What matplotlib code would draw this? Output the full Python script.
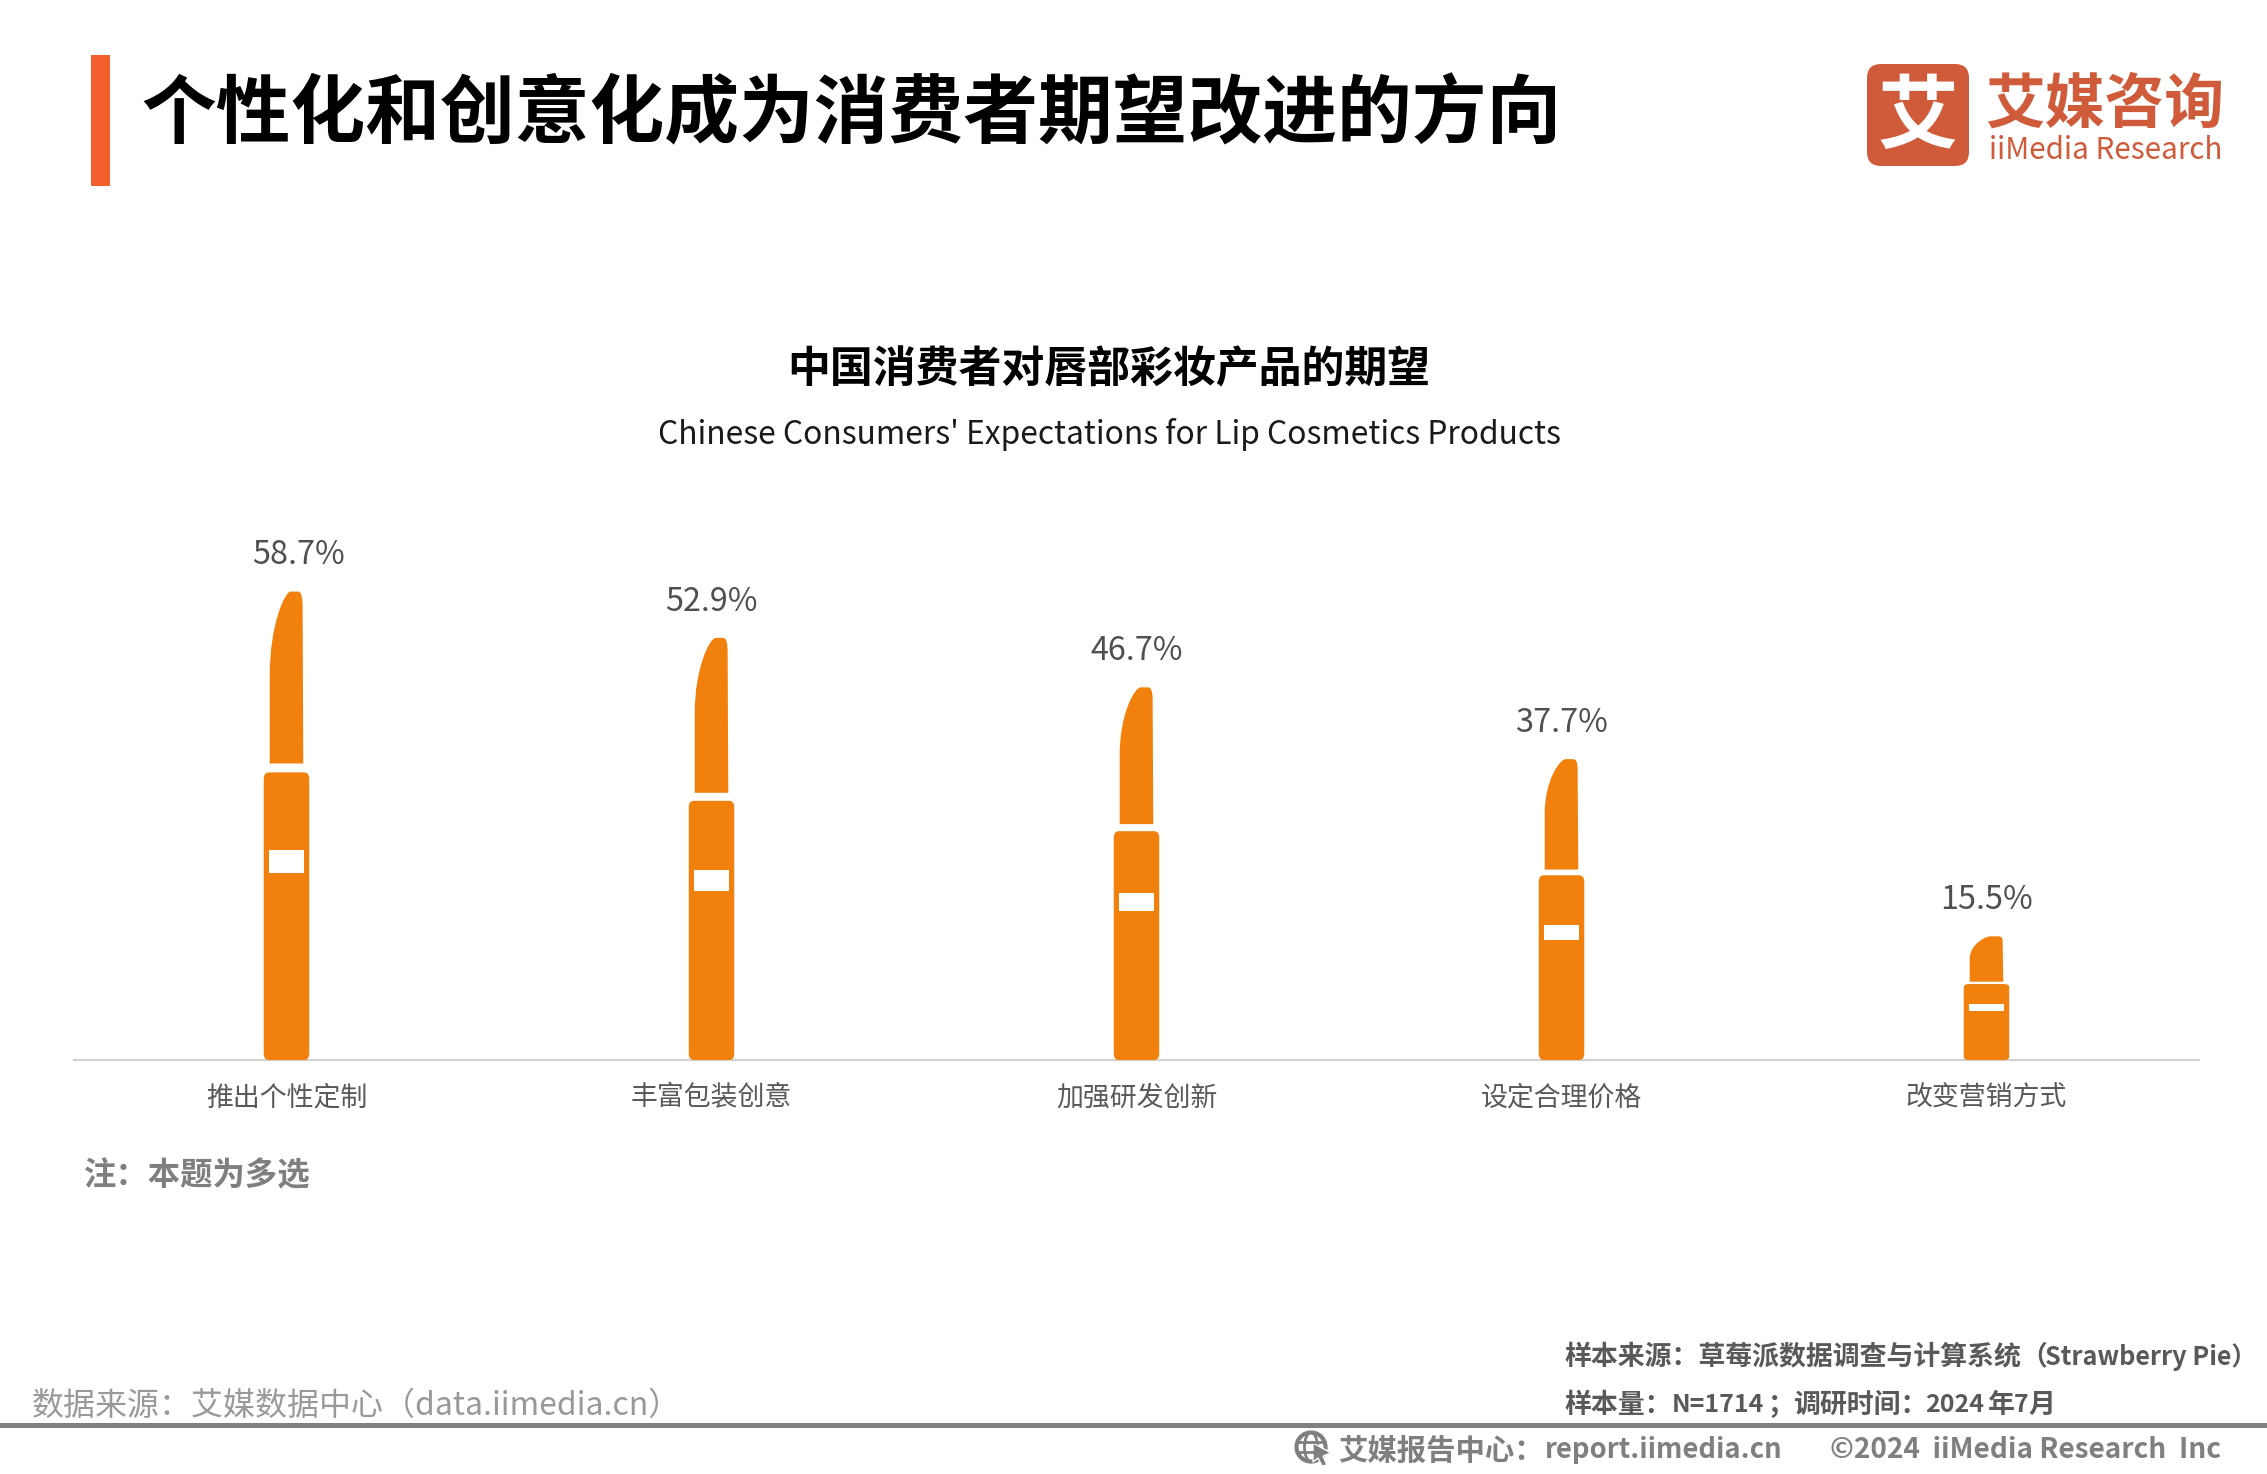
import matplotlib
matplotlib.use("Agg")
import matplotlib.pyplot as plt
from matplotlib.path import Path
from matplotlib.patches import PathPatch, Rectangle, FancyBboxPatch, Circle, Ellipse, Polygon

CJK = ['Noto Sans CJK SC', 'DejaVu Sans']
plt.rcParams['font.family'] = CJK

categories = ['推出个性定制', '丰富包装创意', '加强研发创新', '设定合理价格', '改变营销方式']
values = [58.7, 52.9, 46.7, 37.7, 15.5]
value_labels = ['58.7%', '52.9%', '46.7%', '37.7%', '15.5%']

ORANGE = '#F1800C'
W, H = 2267, 1474
fig = plt.figure(figsize=(W / 100, H / 100), dpi=100, facecolor='white')

# overlay in pixel coordinates
ov = fig.add_axes([0, 0, 1, 1])
ov.set_xlim(0, W); ov.set_ylim(H, 0); ov.axis('off')

# chart axes
base_y = 1060
left, right = 74, 2199
px_per = 7.98
ax_h = 70 * px_per
ax = fig.add_axes([left / W, (H - base_y) / H, (right - left) / W, ax_h / H])
ax.set_xlim(-0.5, 4.5); ax.set_ylim(0, 70)
ax.patch.set_alpha(0)
for s in ['top', 'left', 'right']:
    ax.spines[s].set_visible(False)
ax.spines['bottom'].set_color('#D2D2D2')
ax.spines['bottom'].set_linewidth(1.6)
ax.set_yticks([])
ax.set_xticks(range(len(categories)))
ax.set_xticklabels(categories, fontsize=19.4, color='#595959')
ax.tick_params(axis='x', length=0, pad=17.5)


def lipstick(i, v):
    bw, sw = 0.0535, 0.0395
    rx = 0.012
    ry = 0.014 * 58.7 / max(v, 30)
    top = 0.614 * v
    r = ry * v
    body = [(i - bw, r), (i - bw, top - r), (i - bw, top), (i - bw + rx, top),
            (i + bw - rx, top), (i + bw, top), (i + bw, top - r),
            (i + bw, r), (i + bw, 0), (i + bw - rx, 0), (i - bw + rx, 0), (i - bw, 0), (i - bw, r)]
    bc = [Path.MOVETO, Path.LINETO, Path.CURVE3, Path.CURVE3, Path.LINETO, Path.CURVE3, Path.CURVE3,
          Path.LINETO, Path.CURVE3, Path.CURVE3, Path.LINETO, Path.CURVE3, Path.CURVE3]
    ax.add_patch(PathPatch(Path(body, bc), fc=ORANGE, ec='none', zorder=3))
    # tube with a slanted, rounded tip
    b0 = 0.633 * v
    bullet = [(i - sw, b0), (i - sw, 0.82 * v),
              (i - sw, 0.93 * v), (i - 0.1 * sw, v), (i + 0.25 * sw, v),
              (i + 0.70 * sw, v),
              (i + 0.95 * sw, v), (i + 0.96 * sw, 0.97 * v),
              (i + sw, b0), (i - sw, b0)]
    bu = [Path.MOVETO, Path.LINETO, Path.CURVE4, Path.CURVE4, Path.CURVE4, Path.LINETO,
          Path.CURVE3, Path.CURVE3, Path.LINETO, Path.CLOSEPOLY]
    ax.add_patch(PathPatch(Path(bullet, bu), fc=ORANGE, ec='none', zorder=3))
    # white band
    ax.add_patch(Rectangle((i - 0.042, 0.400 * v), 0.084, 0.049 * v, fc='white', ec='none', zorder=4))


for i, (v, lab) in enumerate(zip(values, value_labels)):
    lipstick(i, v)
    ax.annotate(lab, (i, v), xytext=(8.5 if i == 0 else 0, 26), textcoords='offset points',
                ha='center', va='center', fontsize=23.3, color='#505050', family=CJK)


def T(x, y, s, size, color='black', weight='normal', ha='left', family=None, **kw):
    return ov.text(x, y, s, fontsize=size, color=color, fontweight=weight, ha=ha, va='center',
                   family=family or CJK, **kw)


# header
ov.add_patch(Rectangle((91, 55), 19, 131, fc='#F4602D', ec='none'))
T(141, 115, '个性化和创意化成为消费者期望改进的方向', 53.8, weight='bold')

# logo
LOGO = '#CF5B3A'
ov.add_patch(FancyBboxPatch((1879, 76), 78, 78, boxstyle='round,pad=12,rounding_size=14', fc=LOGO, ec='none'))
T(1918, 118, '艾', 58, color='white', weight='bold', ha='center')
T(2105, 106, '艾媒咨询', 43, color=LOGO, weight='bold', ha='center')
T(2106, 150, 'iiMedia Research', 21.3, color=LOGO, ha='center')

# chart titles
T(1109, 369, '中国消费者对唇部彩妆产品的期望', 30.9, weight='bold', ha='center')
T(1109, 434, "Chinese Consumers' Expectations for Lip Cosmetics Products", 22.9, color='#1a1a1a', ha='center')

# note
T(84, 1176, '注：本题为多选', 23.3, color='#7F7F7F', weight='bold')

# footer
T(32, 1406, '数据来源：艾媒数据中心（data.iimedia.cn）', 23, color='#999999')
SRC = '#595959'
T(1564, 1357, '样本来源：草莓派数据调查与计算系统（', 19.4, color=SRC, weight='bold')
T(2045, 1357, 'Strawberry Pie）', 18.2, color=SRC, weight='bold')
T(1564, 1405, '样本量：', 19.4, color=SRC, weight='bold')
T(1672, 1405, 'N=1714', 18.0, color=SRC, weight='bold')
T(1767, 1405, '；', 19.4, color=SRC, weight='bold')
T(1793, 1405, '调研时间：', 19.4, color=SRC, weight='bold')
T(1925, 1405, '2024', 18.0, color=SRC, weight='bold')
T(1988, 1405, '年', 19.4, color=SRC, weight='bold')
T(2014, 1405, '7', 18.0, color=SRC, weight='bold')
T(2028, 1405, '月', 19.4, color=SRC, weight='bold')
ov.add_patch(Rectangle((0, 1423), W, 4.5, fc='#808080', ec='none'))
# globe icon
ov.add_patch(Circle((1311, 1447), 14.5, fc='none', ec='#7F7F7F', lw=3))
ov.add_patch(Ellipse((1311, 1447), 13, 29, fc='none', ec='#7F7F7F', lw=2))
ov.plot([1297, 1325], [1442, 1442], color='#7F7F7F', lw=2)
ov.plot([1297, 1325], [1452, 1452], color='#7F7F7F', lw=2)
ov.add_patch(Polygon([(1313, 1443), (1331, 1453), (1323, 1456), (1327, 1465), (1322, 1466), (1318, 1458), (1313, 1462)],
                     fc='#7F7F7F', ec='white', lw=1))
T(1338, 1450.5, '艾媒报告中心：', 21.2, color='#7F7F7F', weight='bold')
T(1545, 1450.5, 'report.iimedia.cn', 19.8, color='#7F7F7F', weight='bold')
T(1830, 1450.5, '©2024  iiMedia Research  Inc', 20.2, color='#7F7F7F', weight='bold')

fig.savefig('out.png', dpi=100, facecolor='white')
